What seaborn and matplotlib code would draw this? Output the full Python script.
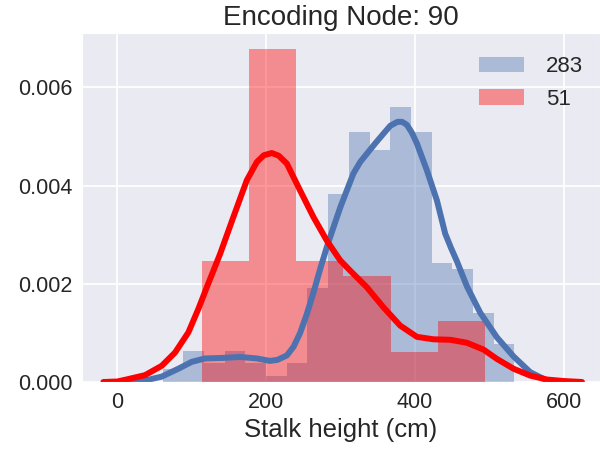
import numpy as np
import pandas as pd
import matplotlib
matplotlib.use("Agg")
import matplotlib.pyplot as plt
import seaborn as sns
from matplotlib.patches import Patch
from matplotlib.ticker import FormatStrFormatter

# ---------------- data ----------------
title = "Encoding Node: 90"
xlabel = "Stalk height (cm)"
series_labels = ["283", "51"]

# histogram of series "283" (counts per bin)
blue_bin_start = 61.1
blue_bin_width = 27.8
blue_counts = [2, 5, 3, 5, 3, 1, 3, 15, 30, 40, 37, 44, 40, 19, 18, 11, 6]

# histogram of series "51" (counts per bin)
red_bin_start = 113.5
red_bin_width = 63.5
red_counts = [8, 22, 8, 7, 2, 4]

# density curve of series "283"
blue_kde_x = [12.6, 40, 59.7, 82, 100, 118, 140.5, 165, 187.5, 205, 215, 227.9,
              237, 245.8, 254.7, 263.7, 272.7, 281.7, 290.6, 299.6, 308.5, 317.5,
              326.5, 335.5, 346.7, 357.9, 367, 376.7, 383, 389.3, 396, 402.8,
              416.3, 429.7, 440.9, 449, 456.6, 470, 488, 510.4, 532.8, 555.2,
              577.7]
blue_kde_y = [0.0, 0.00004, 0.00011, 0.00027, 0.00041, 0.00048, 0.00049, 0.00051,
              0.00048, 0.00043, 0.00045, 0.00054, 0.00072, 0.00100, 0.00138,
              0.00182, 0.0023, 0.00275, 0.00315, 0.00355, 0.0039, 0.00425,
              0.00448, 0.00465, 0.00486, 0.00506, 0.00522, 0.0053, 0.0053,
              0.00524, 0.00508, 0.00486, 0.00431, 0.0037, 0.00302, 0.00272,
              0.00246, 0.00195, 0.00141, 0.00091, 0.00052, 0.0002, 0.00003]

# density curve of series "51"
red_kde_x = [-18.8, 0, 14.8, 37.3, 59.7, 77.6, 95.5, 109, 120.3, 138.2, 156, 174.1,
             187.5, 197, 207.7, 217, 227.9, 245.8, 263.7, 281.7, 299.6, 313, 335.5,
             357.9, 380.3, 402.8, 425, 447.6, 470, 492.4, 510.4, 532.8, 555.2,
             577.7, 600, 624.8]
red_kde_y = [0.0, 0.00001, 0.00006, 0.00014, 0.00033, 0.0006, 0.00101, 0.00149,
             0.00193, 0.00261, 0.00336, 0.00411, 0.00448, 0.00462, 0.004665,
             0.00461, 0.00445, 0.0039, 0.00336, 0.00288, 0.00248, 0.00227,
             0.00193, 0.00152, 0.00115, 0.00092, 0.00087, 0.00086, 0.0008,
             0.00066, 0.00047, 0.00027, 0.00013, 0.00005, 0.00002, 0.0]

x_ticks = [0, 200, 400, 600]
y_ticks = [0.000, 0.002, 0.004, 0.006]

# ---------------- drawing ----------------
sns.set_style("darkgrid")
plt.rcParams["font.family"] = ["Liberation Sans", "DejaVu Sans"]

BLUE = "#4C72B0"
RED = "#FF0000"

fig = plt.figure(figsize=(6, 4.5), dpi=100)
ax = fig.add_axes([82 / 600, 1 - 382 / 450, 518 / 600, 349 / 450])

def hist(start, width, counts, color, label):
    counts = [float(c) for c in counts]
    edges = [start + width * i for i in range(len(counts) + 1)]
    centers = [(edges[i] + edges[i + 1]) / 2 for i in range(len(counts))]
    df = pd.DataFrame({"x": centers, "w": counts})
    sns.histplot(data=df, x="x", weights="w", bins=edges, stat="density",
                 color=color, alpha=0.4, linewidth=0, ax=ax, label=label)

line_kws = dict(linewidth=4.3, solid_joinstyle="round", solid_capstyle="round")
hist(blue_bin_start, blue_bin_width, blue_counts, BLUE, series_labels[0])
sns.lineplot(x=blue_kde_x, y=blue_kde_y, color=BLUE, ax=ax, **line_kws)
hist(red_bin_start, red_bin_width, red_counts, RED, series_labels[1])
sns.lineplot(x=red_kde_x, y=red_kde_y, color=RED, ax=ax, **line_kws)

ax.set_xlim(-47.5, 649)
ax.set_ylim(0, 0.00711)
ax.set_xticks(x_ticks)
ax.set_yticks(y_ticks)
ax.yaxis.set_major_formatter(FormatStrFormatter("%.3f"))
ax.tick_params(axis="both", labelsize=15.5, colors="#262626")
ax.grid(True, color="white", linewidth=1.3)
ax.set_xlabel(xlabel, fontsize=18.5, color="#262626")
ax.set_ylabel("")
ax.set_title(title, fontsize=20, color="#262626")

handles = [Patch(facecolor=BLUE, alpha=0.4, edgecolor="none"),
           Patch(facecolor=RED, alpha=0.4, edgecolor="none")]
ax.legend(handles, series_labels, loc="upper left",
          bbox_to_anchor=(0.728, 0.990), frameon=False, fontsize=16,
          handletextpad=1.0)

fig.savefig("out.png", dpi=100)
